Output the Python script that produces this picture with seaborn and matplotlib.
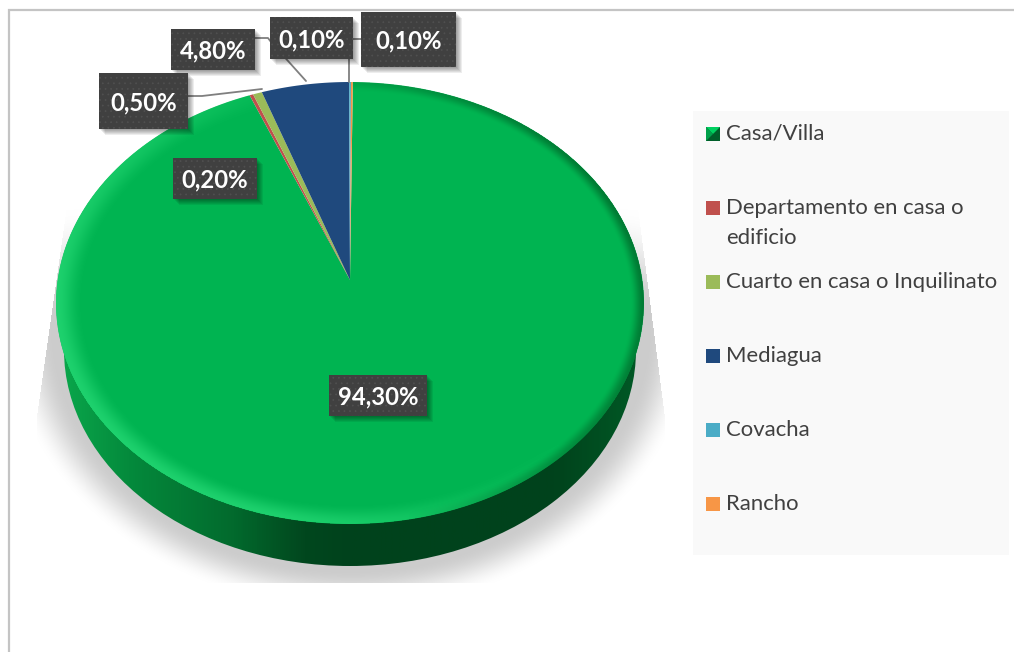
import numpy as np
import matplotlib
matplotlib.use("Agg")
import matplotlib.pyplot as plt
import seaborn as sns
from matplotlib.patches import Rectangle, Polygon, Ellipse
from matplotlib.path import Path
from matplotlib.transforms import Transform
from matplotlib.colors import LinearSegmentedColormap

categories = ["Casa/Villa", "Departamento en casa o\nedificio", "Cuarto en casa o Inquilinato",
              "Mediagua", "Covacha", "Rancho"]
values = [94.3, 0.2, 0.5, 4.8, 0.1, 0.1]
value_labels = ["94,30%", "0,20%", "0,50%", "4,80%", "0,10%", "0,10%"]
colors = ["#00b451", "#c0504d", "#9bbb59", "#1f497d", "#4bacc6", "#f79646"]

sns.set_theme(style="white")
plt.rcParams["font.family"] = ["Lato", "DejaVu Sans"]
W, H = 1014, 652
fig = plt.figure(figsize=(W / 100, H / 100), dpi=100, facecolor="white")
ax = fig.add_axes([0, 0, 1, 1])

CX, CY, RX, RY, APEX = 350.0, 303.0, 294.0, 221.0, 280.0

def to_canvas(p):
    p = np.asarray(p, float)
    r = np.hypot(p[..., 0], p[..., 1])
    return np.stack([CX + RX * p[..., 0], CY - RY * p[..., 1] - (CY - APEX) * (1 - r)], axis=-1)

class PieToCanvas(Transform):
    input_dims = output_dims = 2
    is_affine = False
    has_inverse = False
    def transform_non_affine(self, values):
        return to_canvas(values)
    def transform_path_non_affine(self, path):
        polys = Path(path.vertices * 2000, path.codes).to_polygons(closed_only=False)
        verts = np.vstack(polys) / 2000
        return Path(to_canvas(verts))

wedges, _ = ax.pie(values, colors=sns.color_palette(colors), startangle=89.45, counterclock=False,
                   radius=1.0, center=(0, 0), wedgeprops={"linewidth": 0, "zorder": 4})
ax.set_aspect("auto")
ax.set_xlim(0, W)
ax.set_ylim(H, 0)
ax.axis("off")
trans = PieToCanvas() + ax.transData
for w in wedges:
    w.set_transform(trans)

yy, xx = np.mgrid[0:H, 0:W] + 0.5
extent = (0, W, H, 0)

def smooth(t):
    t = np.clip(t, 0, 1)
    return t * t * (3 - 2 * t)

# soft shadow: a trapezoid widening downwards, cut at the bottom
es = np.hypot((xx - 351) / 345, (yy - 325) / 285)
sa = smooth((1.0 - es) / 0.14) * smooth((yy - 205) / 110)
edge_l = 58 - (yy - 270) * 20 / 140
edge_r = 646 + (yy - 270) * 18 / 140
sa[(xx < edge_l) | (xx > edge_r) | (xx < 37) | (xx > 665) | (yy > 583)] = 0
simg = np.zeros((H, W, 4))
simg[..., :3] = 0.80
simg[..., 3] = sa
ax.imshow(simg, extent=extent, zorder=1, interpolation="bilinear", aspect="auto")

# side wall, seen under the top face
wall_poly = Ellipse((350, 350), 2 * 286, 2 * 216, facecolor="none", edgecolor="none", zorder=2)
ax.add_patch(wall_poly)
wcm = LinearSegmentedColormap.from_list("w", [(0, "#0aa84c"), (0.12, "#048a3c"), (0.3, "#026a2d"),
                                              (0.42, "#01471e"), (0.5, "#00421c"), (0.85, "#00431c"),
                                              (1, "#005a26")])
grad = np.linspace(0, 1, 600)[None, :]
wim = ax.imshow(grad, cmap=wcm, extent=(57, 645, 583, 280), zorder=3, aspect="auto")
wim.set_clip_path(wall_poly)
ax.set_xlim(0, W)
ax.set_ylim(H, 0)

# bevel on the top face: light on the lower left, dark on the right
e = np.hypot((xx - CX) / RX, (yy - CY) / RY)
ang = np.arctan2(yy - CY, xx - CX)
depth = (1 - e) * 215
light = np.clip(0.35 + 0.8 * np.cos(ang - np.radians(145)), 0, 1)
ha = smooth(1 - depth / 20) * light * 0.75
himg = np.zeros((H, W, 4))
himg[..., 0], himg[..., 1], himg[..., 2] = 0.16, 0.86, 0.47
himg[..., 3] = ha * (e <= 1.0)
him = ax.imshow(himg, extent=extent, zorder=5, aspect="auto")
him.set_clip_path(wedges[0])
dark = np.clip(np.cos(ang + np.radians(15)), 0, 1)
dimg = np.zeros((H, W, 4))
dimg[..., 0], dimg[..., 1], dimg[..., 2] = 0.0, 0.38, 0.15
dimg[..., 3] = smooth(1 - depth / 10) * dark * 0.7 * (e <= 1.0)
dim = ax.imshow(dimg, extent=extent, zorder=5, aspect="auto")
dim.set_clip_path(wedges[0])
ax.set_xlim(0, W)
ax.set_ylim(H, 0)

# frame
ax.plot([8.5, 8.5, W], [H, 9.5, 9.5], color="#c4c4c4", lw=1.6, zorder=0, solid_joinstyle="miter")

# leader lines
grey = "#7f7f7f"
for lx, ly in [([188, 202, 262], [96, 96, 89]),
               ([255, 268, 271, 306], [38, 38, 42, 81]),
               ([349, 349], [58, 82]),
               ([353, 361], [39, 39])]:
    ax.plot(lx, ly, color=grey, lw=1.3, zorder=6)

# data label boxes
boxes = [(329, 375, 427, 416), (173, 158, 257, 199), (99, 73, 188, 129),
         (171, 29, 255, 70), (270, 17, 353, 59), (361, 12, 456, 67)]
plt.rcParams["hatch.linewidth"] = 0.5
for (x0, y0, x1, y1), lab in zip(boxes, value_labels):
    for k in range(6, 0, -1):
        ax.add_patch(Rectangle((x0 + k, y0 + k), x1 - x0, y1 - y0, facecolor="black",
                               alpha=0.07, linewidth=0, zorder=7))
    ax.add_patch(Rectangle((x0, y0), x1 - x0, y1 - y0, facecolor="#404040", edgecolor="#505050",
                           hatch="...", linewidth=0, zorder=8))
    ax.text((x0 + x1) / 2, (y0 + y1) / 2 + 1.5, lab, color="white", fontsize=17.2, fontweight="bold",
            ha="center", va="center", zorder=9)

# legend panel
ax.add_patch(Rectangle((693, 111), 316, 444, facecolor="#f9f9f9", linewidth=0, zorder=1))
for i, (name, col) in enumerate(zip(categories, colors)):
    y = 134 + 74 * i
    ax.add_patch(Rectangle((706, y - 7), 14, 14, facecolor=col, linewidth=0, zorder=3))
    if i == 0:
        ax.add_patch(Rectangle((706, y - 7), 14, 14, facecolor="#005f2a", linewidth=0, zorder=3))
        ax.add_patch(Polygon([(706, y - 7), (720, y - 7), (713, y)], facecolor="#00d060", linewidth=0, zorder=4))
        ax.add_patch(Polygon([(706, y - 7), (706, y + 7), (713, y)], facecolor="#00a04a", linewidth=0, zorder=4))
    ax.text(726, y - 10, name, color="#404040", fontsize=15.9, va="top", ha="left",
            linespacing=1.6, zorder=3)

fig.savefig("out.png", dpi=100, facecolor="white")
